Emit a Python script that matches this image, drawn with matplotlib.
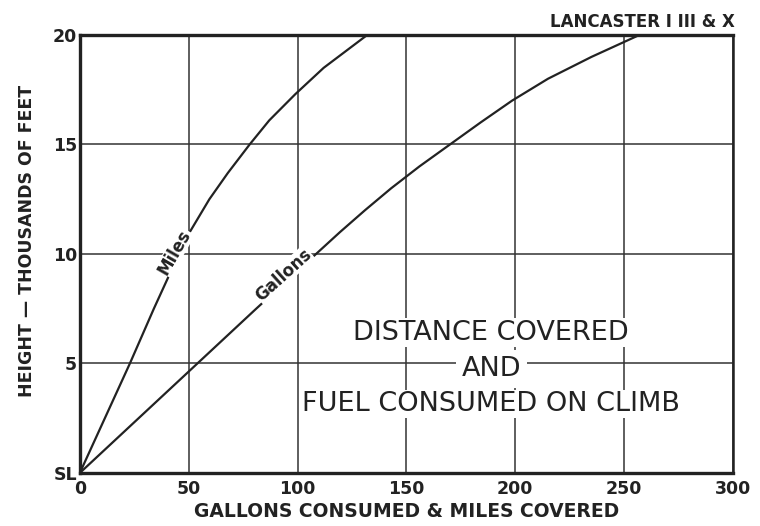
import numpy as np
import matplotlib
matplotlib.use("Agg")
import matplotlib.pyplot as plt

# climb curves: height (thousands of feet) vs miles / gallons
miles_h = [0, 2.5, 5, 7.5, 10, 11, 12.5, 13.7, 15, 16.1, 17.3, 18.5, 19.25, 20]
miles_x = [0, 11.5, 23, 34, 45.5, 50.5, 59.5, 68, 78, 87, 99, 112, 122, 132]

gallons_h = [0, 2.5, 5, 7.5, 10, 11, 12, 13, 14, 15, 16, 17, 18, 19, 20]
gallons_x = [0, 27, 54, 81, 108.5, 119.5, 131, 143, 156, 170, 184, 198.5, 215, 235, 257]

x_ticks = [0, 50, 100, 150, 200, 250, 300]
y_ticks = [0, 5, 10, 15, 20]
y_tick_labels = ["SL", "5", "10", "15", "20"]

ink = "#222222"

fig = plt.figure(figsize=(7.6, 5.26), dpi=100)
ax = fig.add_axes([0.105, 0.1008, 0.8595, 0.8327])

ax.set_xlim(0, 300)
ax.set_ylim(0, 20)
ax.set_xticks(x_ticks)
ax.set_yticks(y_ticks)
ax.set_yticklabels(y_tick_labels)
ax.tick_params(length=0, pad=5, labelsize=12.5, colors=ink)
for lab in ax.get_xticklabels() + ax.get_yticklabels():
    lab.set_fontweight("bold")
ax.tick_params(axis="y", pad=2)

ax.grid(True, color="#333333", linewidth=1.1)
ax.set_axisbelow(True)

for side in ["left", "bottom", "top"]:
    ax.spines[side].set_linewidth(2.4)
    ax.spines[side].set_color(ink)
ax.spines["right"].set_linewidth(1.8)
ax.spines["right"].set_color(ink)

ax.plot(miles_x, miles_h, color=ink, linewidth=1.6, zorder=3)
ax.plot(gallons_x, gallons_h, color=ink, linewidth=1.6, zorder=3)

ax.text(43.6, 10.1, "Miles", rotation=60, ha="center", va="center",
        fontsize=12, fontweight="bold", color=ink, zorder=4,
        bbox=dict(facecolor="white", edgecolor="none", pad=0.2))
ax.text(93.5, 9.05, "Gallons", rotation=42, ha="center", va="center",
        fontsize=12, fontweight="bold", color=ink, zorder=4,
        bbox=dict(facecolor="white", edgecolor="none", pad=0.2))

box = dict(facecolor="white", edgecolor="none", pad=1)
ax.text(189, 6.4, "DISTANCE COVERED", ha="center", va="center",
        fontsize=19.5, color=ink, bbox=box, zorder=4)
ax.text(189, 4.75, "AND", ha="center", va="center", fontsize=19.5, color=ink,
        bbox=dict(facecolor="white", edgecolor="none", pad=4), zorder=4)
ax.text(189, 3.15, "FUEL CONSUMED ON CLIMB", ha="center", va="center",
        fontsize=19.5, color=ink, bbox=box, zorder=4)

ax.set_xlabel("GALLONS CONSUMED & MILES COVERED", fontsize=13.5,
              fontweight="bold", color=ink, labelpad=3)
ax.set_ylabel("HEIGHT \u2014 THOUSANDS OF FEET", fontsize=12.5,
              fontweight="bold", color=ink, y=0.53, labelpad=12)

fig.text(0.967, 0.958, "LANCASTER I III & X", ha="right", va="center",
         fontsize=12, fontweight="bold", color=ink)

fig.savefig("out.png", dpi=100, facecolor="white")
